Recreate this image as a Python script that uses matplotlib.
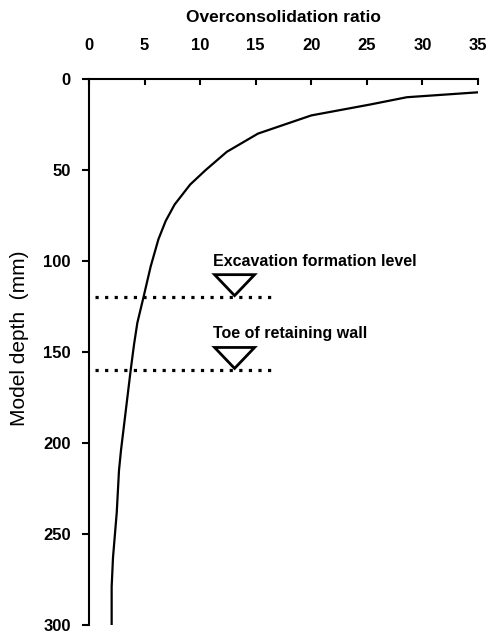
import matplotlib
matplotlib.use("Agg")
import matplotlib.pyplot as plt
from matplotlib.patches import Polygon

# Data
depth = [7.3, 10, 14, 20, 30, 40, 50, 58, 69, 78, 88, 103, 120, 134, 146, 160, 204, 215, 238, 263, 279, 300]
ocr = [35.0, 28.6, 25.3, 20.0, 15.2, 12.4, 10.5, 9.1, 7.7, 6.9, 6.25, 5.55, 4.9, 4.35, 4.05, 3.75, 2.88, 2.7, 2.5, 2.16, 2.04, 2.04]

level_depths = [120, 160]
level_labels = ["Excavation formation level", "Toe of retaining wall"]
line_end_ocr = 16.6
marker_ocr = 13.1

x_ticks = [0, 5, 10, 15, 20, 25, 30, 35]
y_ticks = [0, 50, 100, 150, 200, 250, 300]

plt.rcParams['font.family'] = ['Liberation Sans', 'DejaVu Sans']

fig = plt.figure(figsize=(4.9, 6.35), dpi=100)
ax = fig.add_axes([0.1816, 0.01575, 0.7939, 0.8598])

ax.plot(ocr, depth, color='black', lw=1.6, clip_on=True)

for d, lab in zip(level_depths, level_labels):
    ax.plot([0.5, line_end_ocr], [d, d], color='black', lw=2.3,
            linestyle=(0, (1, 2.0)), dash_capstyle='butt')
    tri = Polygon([[marker_ocr - 1.8, d - 12.5], [marker_ocr + 1.8, d - 12.5], [marker_ocr, d - 1]],
                  closed=True, fill=False, edgecolor='black', lw=2.0)
    ax.add_patch(tri)
    ax.text(11.2, d - 20, lab, fontsize=11.5, fontweight='bold', ha='left', va='center')

ax.set_xlim(0, 35)
ax.set_ylim(300, 0)
ax.xaxis.tick_top()
ax.xaxis.set_label_position('top')
ax.set_xticks(x_ticks)
ax.set_yticks(y_ticks)
ax.spines['right'].set_visible(False)
ax.spines['bottom'].set_visible(False)
for s in ['top', 'left']:
    ax.spines[s].set_linewidth(1.5)
ax.tick_params(axis='x', direction='in', length=4, width=1.5, pad=19, labelsize=12)
ax.tick_params(axis='y', direction='out', length=5, width=1.5, pad=8, labelsize=12)
for lab in ax.get_xticklabels() + ax.get_yticklabels():
    lab.set_fontweight('bold')

ax.set_xlabel("Overconsolidation ratio", fontsize=12.5, fontweight='bold', labelpad=11)
fig.text(20 / 490, 1 - 338 / 635, "Model depth  (mm)", fontsize=15,
         rotation=90, ha='center', va='center')

fig.savefig("out.png", dpi=100)
